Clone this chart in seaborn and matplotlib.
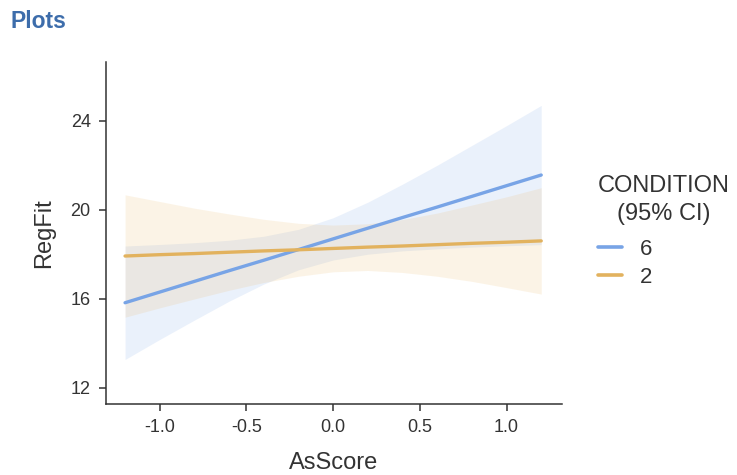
import pandas as pd
import matplotlib.pyplot as plt
import seaborn as sns

# values (regression fit with 95% CI)
AS_SCORE = [-1.2, -1.0, -0.8, -0.6, -0.4, -0.2, 0.0, 0.2, 0.4, 0.6, 0.8, 1.0, 1.2]

FIT_6 = [15.83, 16.31, 16.79, 17.27, 17.74, 18.22, 18.70, 19.18, 19.66, 20.13, 20.61, 21.09, 21.57]
LOW_6 = [13.28, 14.18, 15.05, 15.90, 16.67, 17.31, 17.75, 18.01, 18.16, 18.25, 18.33, 18.39, 18.44]
HIGH_6 = [18.38, 18.45, 18.53, 18.64, 18.82, 19.13, 19.65, 20.35, 21.16, 22.01, 22.90, 23.79, 24.70]

FIT_2 = [17.93, 17.99, 18.04, 18.10, 18.16, 18.21, 18.27, 18.33, 18.38, 18.44, 18.50, 18.55, 18.61]
LOW_2 = [15.18, 15.60, 16.00, 16.39, 16.74, 17.02, 17.22, 17.28, 17.19, 17.02, 16.79, 16.51, 16.22]
HIGH_2 = [20.68, 20.38, 20.08, 19.82, 19.58, 19.40, 19.32, 19.38, 19.57, 19.86, 20.22, 20.59, 21.00]

CONDITIONS = ["6", "2"]
COLORS = {"6": "#78A4E6", "2": "#E2B25E"}

X_TICKS = [-1.0, -0.5, 0.0, 0.5, 1.0]
Y_TICKS = [12, 16, 20, 24]

sns.set_theme(style="ticks")
plt.rcParams["font.family"] = ["Liberation Sans", "DejaVu Sans"]
plt.rcParams["axes.unicode_minus"] = False

df = pd.DataFrame({
    "AsScore": AS_SCORE * 2,
    "RegFit": FIT_6 + FIT_2,
    "CONDITION": ["6"] * len(AS_SCORE) + ["2"] * len(AS_SCORE),
})

fig = plt.figure(figsize=(7.37, 4.75), dpi=100)
ax = fig.add_axes([0.1438, 0.1495, 0.6188, 0.72])

# CI bands first, then lines on top
ax.fill_between(AS_SCORE, LOW_6, HIGH_6, color=COLORS["6"], alpha=0.15, lw=0)
ax.fill_between(AS_SCORE, LOW_2, HIGH_2, color="#EAB45A", alpha=0.15, lw=0)

sns.lineplot(data=df, x="AsScore", y="RegFit", hue="CONDITION",
             hue_order=CONDITIONS, palette=COLORS, linewidth=2.4, ax=ax)

ax.set_xlim(-1.31, 1.32)
ax.set_ylim(11.28, 26.65)
ax.set_xticks(X_TICKS)
ax.set_xticklabels([f"{t:.1f}" for t in X_TICKS])
ax.set_yticks(Y_TICKS)

ax.set_xlabel("AsScore", fontsize=17, color="#333333", labelpad=11)
ax.set_ylabel("RegFit", fontsize=17, color="#333333", labelpad=11)
ax.tick_params(axis="both", labelsize=13, colors="#333333", length=5, width=1.1, pad=6)
sns.despine(ax=ax)
for side in ["left", "bottom"]:
    ax.spines[side].set_color("#333333")
    ax.spines[side].set_linewidth(1.1)

# legend title drawn separately to get the wide gap above the entries
fig.text(664 / 737, 1 - 186 / 475, "CONDITION", fontsize=17, color="#333333",
         ha="center", va="center")
fig.text(664 / 737, 1 - 214 / 475, "(95% CI)", fontsize=17, color="#333333",
         ha="center", va="center")

leg = ax.legend(frameon=False, fontsize=16, loc="upper left",
                bbox_to_anchor=(598 / 737, 1 - 239 / 475), bbox_transform=fig.transFigure,
                handlelength=1.1, handletextpad=0.8, labelspacing=0.32,
                borderpad=0, borderaxespad=0)
for txt in leg.get_texts():
    txt.set_color("#333333")
for line in leg.get_lines():
    line.set_linewidth(2.6)

fig.text(0.0136, 0.955, "Plots", fontsize=16.5, fontweight="bold",
         color="#3D6DAB", ha="left", va="center")

fig.savefig("out.png", dpi=100)
